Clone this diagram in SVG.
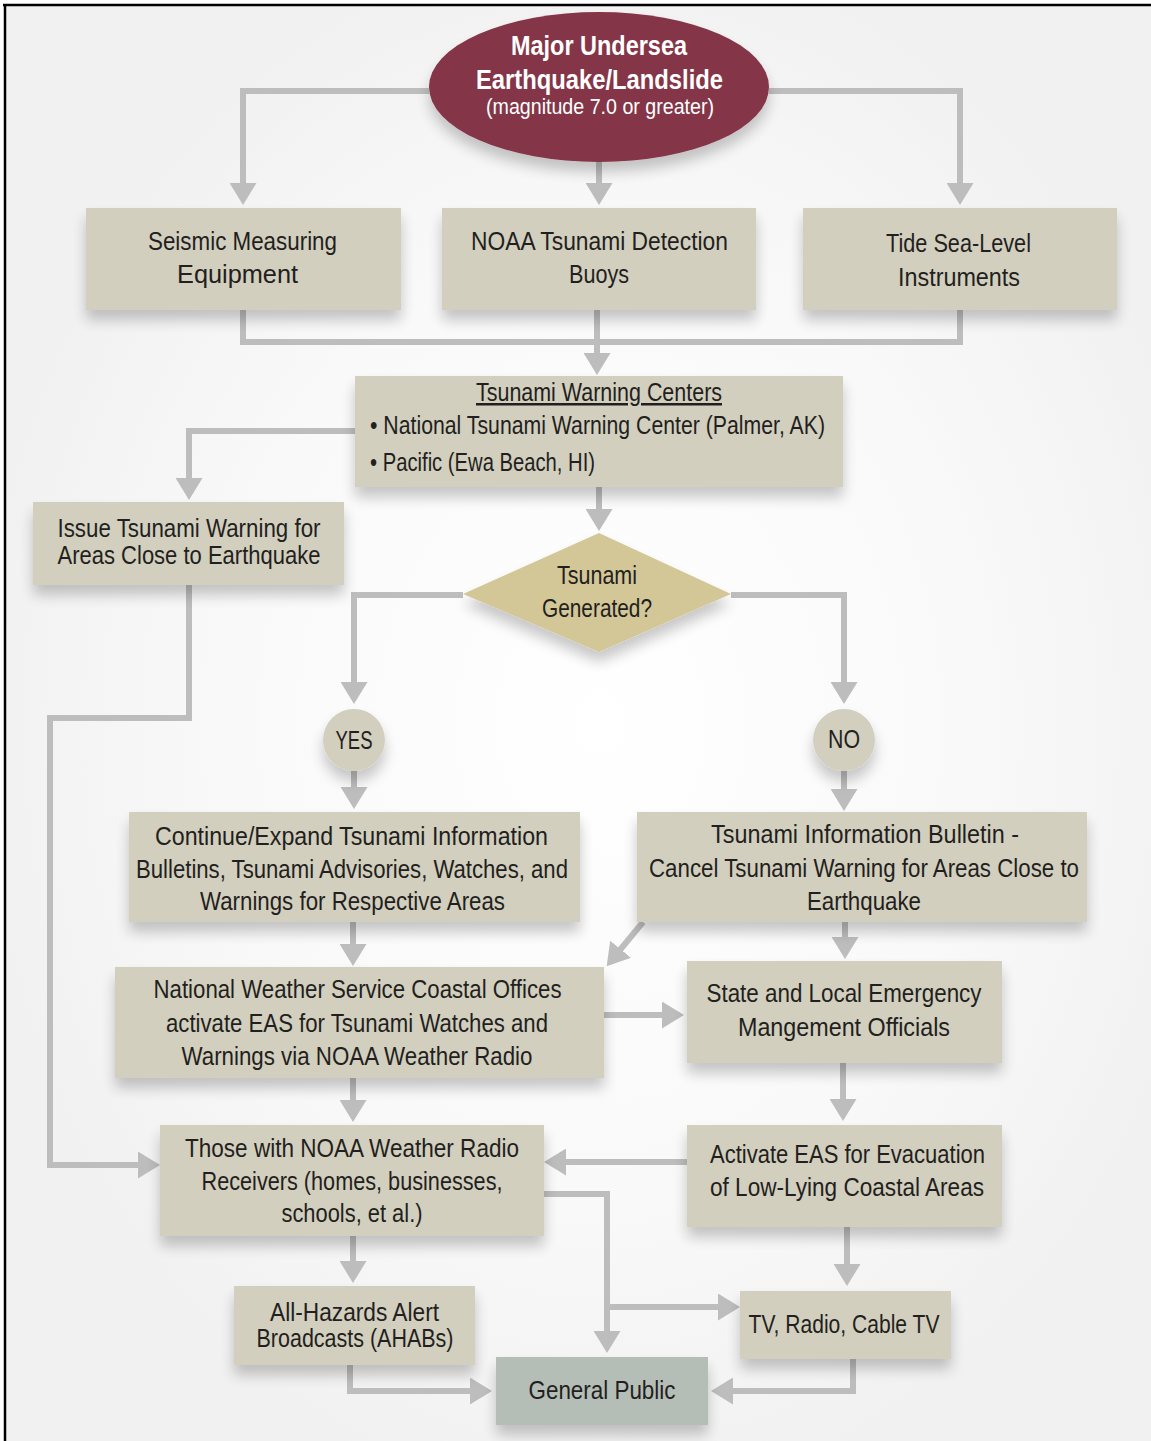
<svg xmlns="http://www.w3.org/2000/svg" width="1151" height="1441" viewBox="0 0 1151 1441">
<defs>
<radialGradient id="bg" cx="52%" cy="50%" r="55%">
<stop offset="0" stop-color="#ffffff"/>
<stop offset="0.6" stop-color="#f9f9f9"/>
<stop offset="1" stop-color="#f1f1f1"/>
</radialGradient>
<filter id="sh" x="-20%" y="-30%" width="140%" height="180%">
<feGaussianBlur in="SourceAlpha" stdDeviation="7"/>
<feOffset dx="0" dy="10" result="b"/>
<feComponentTransfer><feFuncA type="linear" slope="0.22"/></feComponentTransfer>
<feMerge><feMergeNode/><feMergeNode in="SourceGraphic"/></feMerge>
</filter>
<marker id="ah" viewBox="0 0 22 27" refX="1" refY="13.5" markerWidth="22" markerHeight="27" markerUnits="userSpaceOnUse" orient="auto">
<path d="M0,0 L22,13.5 L0,27 Z" fill="#bdbdbd"/>
</marker>
<style>
.box{fill:#d2cfbe;filter:url(#sh)}
.t{font-family:"Liberation Sans",Arial,sans-serif;font-size:25px;fill:#231f20;text-anchor:middle}
.l{text-anchor:start}
.w{fill:#ffffff}
.b{font-weight:bold;font-size:28px}
.s{font-size:22px}
.c path{fill:none;stroke:#bdbdbd;stroke-width:6}
.c .a{marker-end:url(#ah)}
</style>
</defs>
<rect x="0" y="0" width="1151" height="1441" fill="#ffffff"/>
<rect x="5" y="5" width="1146" height="1436" fill="url(#bg)"/>
<path d="M3,5 H1151 M5,4 V1441" stroke="#000000" stroke-width="2.5" fill="none"/>

<g id="connectors" class="c">
<path class="a" d="M429,91 H243 V184"/>
<path class="a" d="M599,162 V184"/>
<path class="a" d="M769,91 H960 V184"/>
<path d="M243,310 V342 H960 V310"/>
<path class="a" d="M597,310 V354"/>
<path class="a" d="M355,431 H189 V479"/>
<path class="a" d="M599,487 V510"/>
<path class="a" d="M463,595 H354 V683"/>
<path class="a" d="M731,595 H844 V683"/>
<path class="a" d="M354,771 V788"/>
<path class="a" d="M844,771 V790"/>
<path class="a" d="M189,585 V718 H50 V1165 H139"/>
<path class="a" d="M353,922 V945"/>
<path class="a" d="M643,922 L620,950"/>
<path class="a" d="M845,922 V938"/>
<path class="a" d="M604,1015 H663"/>
<path class="a" d="M353,1078 V1101"/>
<path class="a" d="M843,1063 V1100"/>
<path class="a" d="M687,1162 H565"/>
<path class="a" d="M544,1194 H607 V1332"/>
<path class="a" d="M607,1307 H719"/>
<path class="a" d="M353,1236 V1262"/>
<path class="a" d="M847,1227 V1265"/>
<path class="a" d="M350,1365 V1391 H471"/>
<path class="a" d="M853,1359 V1391 H732"/>
</g>

<g id="earthquake">
<ellipse cx="599" cy="87" rx="170" ry="75" fill="#843447" filter="url(#sh)"/>
<text class="t w b" x="599" y="55" textLength="176" lengthAdjust="spacingAndGlyphs">Major Undersea</text>
<text class="t w b" x="599.5" y="89" textLength="247" lengthAdjust="spacingAndGlyphs">Earthquake/Landslide</text>
<text class="t w s" x="600" y="114" textLength="228" lengthAdjust="spacingAndGlyphs">(magnitude 7.0 or greater)</text>
</g>

<g id="seismic">
<rect class="box" x="86" y="208" width="315" height="102"/>
<text class="t" x="242.5" y="250" textLength="189" lengthAdjust="spacingAndGlyphs">Seismic Measuring</text>
<text class="t" x="237.5" y="283" textLength="121" lengthAdjust="spacingAndGlyphs">Equipment</text>
</g>

<g id="buoys">
<rect class="box" x="442" y="208" width="314" height="102"/>
<text class="t" x="599.5" y="250" textLength="257" lengthAdjust="spacingAndGlyphs">NOAA Tsunami Detection</text>
<text class="t" x="599" y="283" textLength="60" lengthAdjust="spacingAndGlyphs">Buoys</text>
</g>

<g id="tide">
<rect class="box" x="803" y="208" width="314" height="102"/>
<text class="t" x="958.5" y="252" textLength="145" lengthAdjust="spacingAndGlyphs">Tide Sea-Level</text>
<text class="t" x="959" y="286" textLength="122" lengthAdjust="spacingAndGlyphs">Instruments</text>
</g>

<g id="warning-centers">
<rect class="box" x="355" y="376" width="488" height="111"/>
<text class="t" x="599" y="401" textLength="246" lengthAdjust="spacingAndGlyphs" text-decoration="underline">Tsunami Warning Centers</text>
<text class="t l" x="370" y="434" textLength="455" lengthAdjust="spacingAndGlyphs">• National Tsunami Warning Center (Palmer, AK)</text>
<text class="t l" x="370" y="471" textLength="225" lengthAdjust="spacingAndGlyphs">• Pacific (Ewa Beach, HI)</text>
</g>

<g id="issue-warning">
<rect class="box" x="33" y="502" width="311" height="83"/>
<text class="t" x="189" y="537" textLength="263" lengthAdjust="spacingAndGlyphs">Issue Tsunami Warning for</text>
<text class="t" x="189" y="564" textLength="263" lengthAdjust="spacingAndGlyphs">Areas Close to Earthquake</text>
</g>

<g id="decision">
<polygon points="599,533 731,594 599,652 463,594" fill="#d3c797" filter="url(#sh)"/>
<text class="t" x="597" y="584" textLength="80" lengthAdjust="spacingAndGlyphs">Tsunami</text>
<text class="t" x="597" y="617" textLength="110" lengthAdjust="spacingAndGlyphs">Generated?</text>
</g>

<g id="yes">
<circle cx="354" cy="740" r="31" fill="#d2cfbe" filter="url(#sh)"/>
<text class="t" x="354" y="749" textLength="37" lengthAdjust="spacingAndGlyphs">YES</text>
</g>

<g id="no">
<circle cx="844" cy="740" r="31" fill="#d2cfbe" filter="url(#sh)"/>
<text class="t" x="844" y="748" textLength="32" lengthAdjust="spacingAndGlyphs">NO</text>
</g>

<g id="continue">
<rect class="box" x="129" y="812" width="451" height="110"/>
<text class="t" x="351.5" y="845" textLength="393" lengthAdjust="spacingAndGlyphs">Continue/Expand Tsunami Information</text>
<text class="t" x="352" y="878" textLength="432" lengthAdjust="spacingAndGlyphs">Bulletins, Tsunami Advisories, Watches, and</text>
<text class="t" x="352.5" y="910" textLength="305" lengthAdjust="spacingAndGlyphs">Warnings for Respective Areas</text>
</g>

<g id="bulletin">
<rect class="box" x="637" y="812" width="450" height="110"/>
<text class="t" x="865" y="843" textLength="308" lengthAdjust="spacingAndGlyphs">Tsunami Information Bulletin -</text>
<text class="t" x="864" y="877" textLength="430" lengthAdjust="spacingAndGlyphs">Cancel Tsunami Warning for Areas Close to</text>
<text class="t" x="864" y="910" textLength="114" lengthAdjust="spacingAndGlyphs">Earthquake</text>
</g>

<g id="nws">
<rect class="box" x="115" y="967" width="489" height="111"/>
<text class="t" x="357.5" y="998" textLength="408" lengthAdjust="spacingAndGlyphs">National Weather Service Coastal Offices</text>
<text class="t" x="357" y="1032" textLength="382" lengthAdjust="spacingAndGlyphs">activate EAS for Tsunami Watches and</text>
<text class="t" x="357" y="1065" textLength="351" lengthAdjust="spacingAndGlyphs">Warnings via NOAA Weather Radio</text>
</g>

<g id="state-local">
<rect class="box" x="687" y="961" width="315" height="102"/>
<text class="t" x="844" y="1002" textLength="275" lengthAdjust="spacingAndGlyphs">State and Local Emergency</text>
<text class="t" x="844" y="1036" textLength="212" lengthAdjust="spacingAndGlyphs">Mangement Officials</text>
</g>

<g id="radio-receivers">
<rect class="box" x="160" y="1125" width="384" height="111"/>
<text class="t" x="352" y="1157" textLength="334" lengthAdjust="spacingAndGlyphs">Those with NOAA Weather Radio</text>
<text class="t" x="352" y="1190" textLength="301" lengthAdjust="spacingAndGlyphs">Receivers (homes, businesses,</text>
<text class="t" x="352" y="1222" textLength="141" lengthAdjust="spacingAndGlyphs">schools, et al.)</text>
</g>

<g id="activate-eas">
<rect class="box" x="687" y="1125" width="315" height="102"/>
<text class="t" x="847.5" y="1163" textLength="275" lengthAdjust="spacingAndGlyphs">Activate EAS for Evacuation</text>
<text class="t" x="847" y="1196" textLength="274" lengthAdjust="spacingAndGlyphs">of Low-Lying Coastal Areas</text>
</g>

<g id="ahabs">
<rect class="box" x="234" y="1286" width="241" height="79"/>
<text class="t" x="354.5" y="1321" textLength="169" lengthAdjust="spacingAndGlyphs">All-Hazards Alert</text>
<text class="t" x="355" y="1347" textLength="197" lengthAdjust="spacingAndGlyphs">Broadcasts (AHABs)</text>
</g>

<g id="tv-radio">
<rect class="box" x="740" y="1291" width="211" height="68"/>
<text class="t" x="844" y="1333" textLength="191" lengthAdjust="spacingAndGlyphs">TV, Radio, Cable TV</text>
</g>

<g id="general-public">
<rect x="496" y="1357" width="212" height="68" fill="#b5beb6" filter="url(#sh)"/>
<text class="t" x="602" y="1399" textLength="147" lengthAdjust="spacingAndGlyphs">General Public</text>
</g>
</svg>
